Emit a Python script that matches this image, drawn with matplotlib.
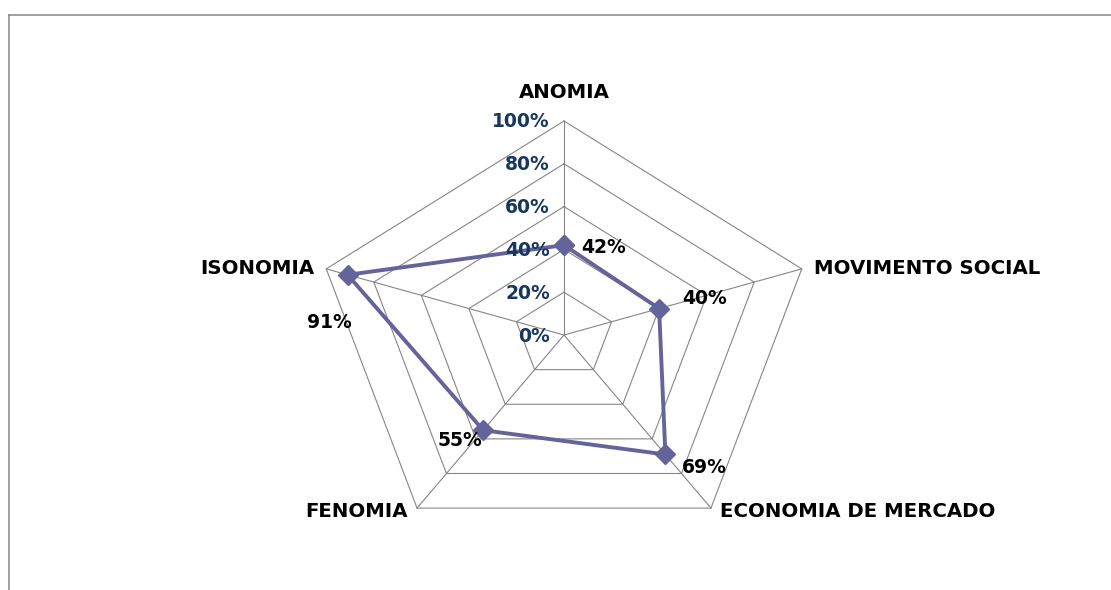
import numpy as np
import matplotlib
matplotlib.use("Agg")
import matplotlib.pyplot as plt
from matplotlib.lines import Line2D

categories = ["ANOMIA", "MOVIMENTO SOCIAL", "ECONOMIA DE MERCADO", "FENOMIA", "ISONOMIA"]
values = [0.42, 0.40, 0.69, 0.55, 0.91]
value_labels = ["42%", "40%", "69%", "55%", "91%"]
ring_levels = [0.0, 0.2, 0.4, 0.6, 0.8, 1.0]
ring_labels = ["0%", "20%", "40%", "60%", "80%", "100%"]

W, H, DPI = 1111, 590, 100
fig = plt.figure(figsize=(W / DPI, H / DPI), dpi=DPI)
ax = fig.add_axes([0, 0, 1, 1])
ax.set_axis_off()

# centre in pixels and radii (horizontal stretch as in reference)
cx, cy_top = 564, 335
rx, ry = 250, 214
ax.set_xlim(-cx / rx, (W - cx) / rx)
ax.set_ylim(-(H - cy_top) / ry, cy_top / ry)

n = len(categories)
theta = np.arange(n) * 2 * np.pi / n
sx, sy = np.sin(theta), np.cos(theta)

grid_c = "#868686"
# rings
for r in ring_levels[1:]:
    ax.plot(np.append(sx, sx[0]) * r, np.append(sy, sy[0]) * r, color=grid_c, lw=0.8, zorder=1)
# spokes
for i in range(n):
    ax.plot([0, sx[i]], [0, sy[i]], color=grid_c, lw=0.8, zorder=1)

# series
v = np.array(values)
ax.plot(np.append(v * sx, v[0] * sx[0]), np.append(v * sy, v[0] * sy[0]),
        color="#64649A", lw=2.8, marker="D", markersize=10.5,
        markerfacecolor="#64649A", markeredgecolor="#64649A", zorder=3)

# ring labels
for r, lab in zip(ring_levels, ring_labels):
    ax.annotate(lab, xy=(0, r), xytext=(-14, -1), textcoords="offset pixels",
                ha="right", va="center", fontsize=13.5, fontweight="bold",
                color="#17375E", family="DejaVu Sans", zorder=4)

# category labels
cat_off = [(0, 28, "center"), (12, 0, "left"), (9, -3, "left"), (-9, -3, "right"), (-12, 0, "right")]
for i, (lab, (dx, dy, ha)) in enumerate(zip(categories, cat_off)):
    ax.annotate(lab, xy=(sx[i], sy[i]), xytext=(dx, dy), textcoords="offset pixels",
                ha=ha, va="center", fontsize=14.2, fontweight="bold",
                color="black", family="DejaVu Sans")

# value labels
val_off = [(40, -2), (45, 10), (39, -13), (-23, -10), (-18, -48)]
for i, (lab, (dx, dy)) in enumerate(zip(value_labels, val_off)):
    ax.annotate(lab, xy=(v[i] * sx[i], v[i] * sy[i]), xytext=(dx, dy), textcoords="offset pixels",
                ha="center", va="center", fontsize=13.5, fontweight="bold",
                color="black", family="DejaVu Sans", zorder=5)

# chart border (cropped at right and bottom)
bx, by = 8.5 / W, 1 - 14.5 / H
fig.add_artist(Line2D([bx, 1.0], [by, by], transform=fig.transFigure, color="#868686", lw=1.1))
fig.add_artist(Line2D([bx, bx], [0.0, by], transform=fig.transFigure, color="#868686", lw=1.1))

fig.savefig("out.png", dpi=DPI)
